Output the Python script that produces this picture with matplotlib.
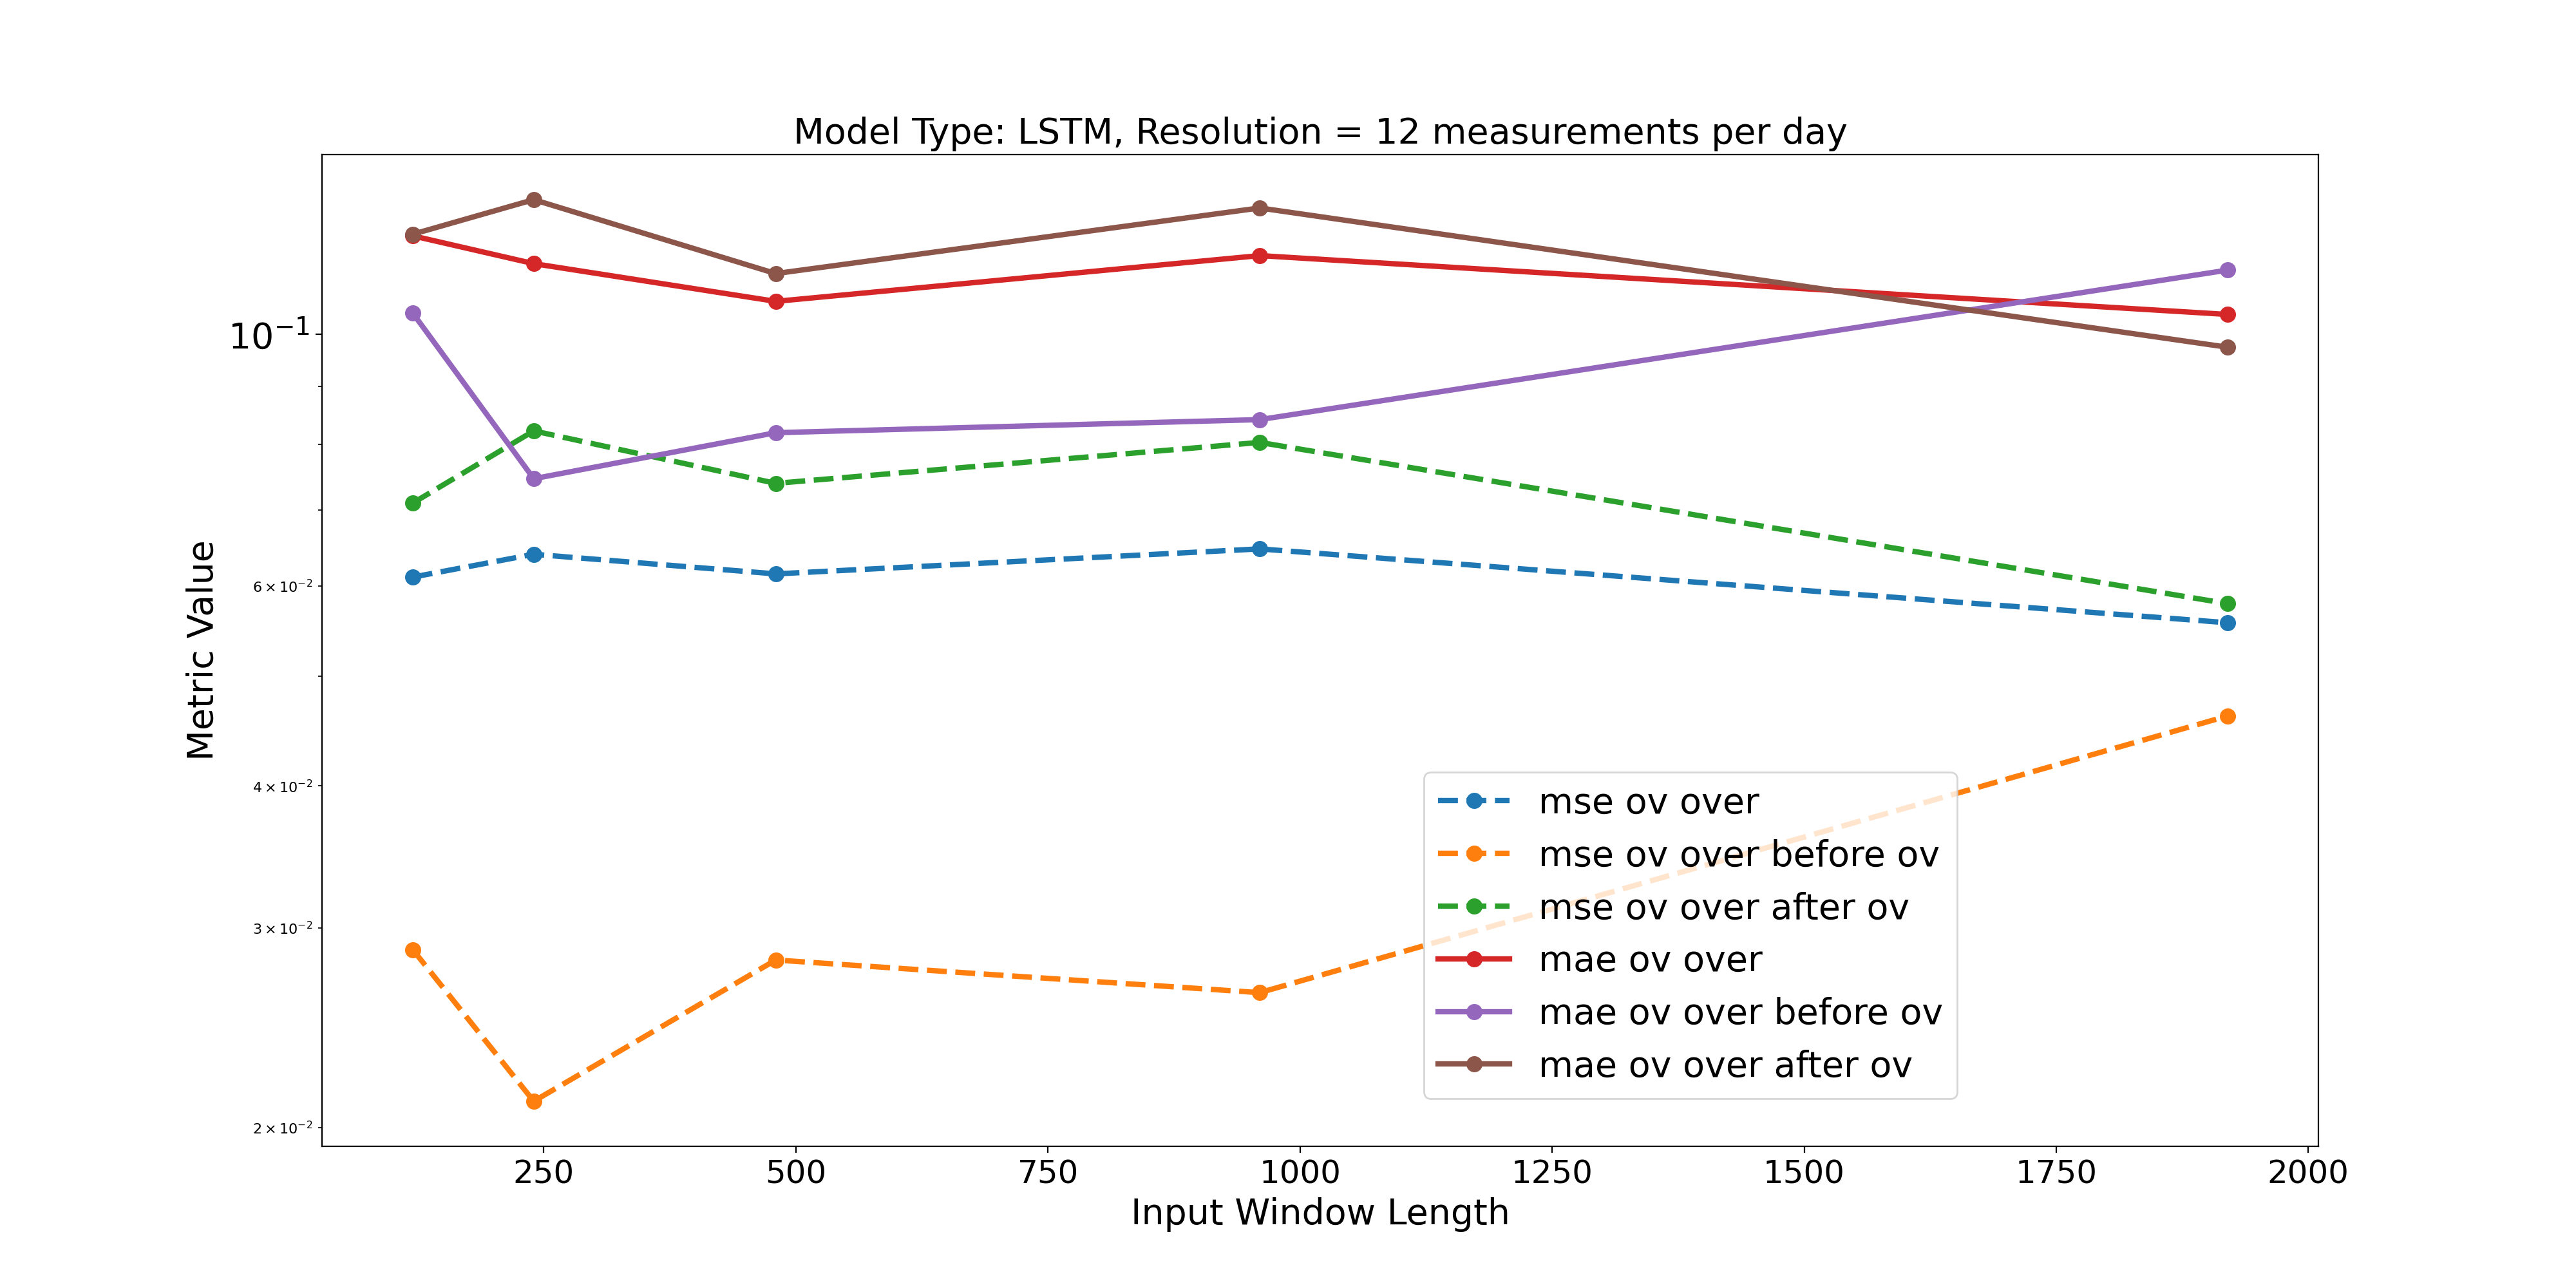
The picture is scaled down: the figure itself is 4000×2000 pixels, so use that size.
import matplotlib
matplotlib.use('Agg')
from matplotlib import pyplot as plt

windows = [120, 240, 480, 960, 1920]

mse_over = [0.0611, 0.0640, 0.0615, 0.0647, 0.0557]
mse_before = [0.0287, 0.0211, 0.0281, 0.0263, 0.0461]
mse_after = [0.0710, 0.0822, 0.0739, 0.0803, 0.0579]
mae_over = [0.1221, 0.1154, 0.1069, 0.1173, 0.1041]
mae_before = [0.1044, 0.0746, 0.0819, 0.0841, 0.1139]
mae_after = [0.1225, 0.1314, 0.1131, 0.1292, 0.0974]

series = [
    ('mse ov over', mse_over, '--'),
    ('mse ov over before ov', mse_before, '--'),
    ('mse ov over after ov', mse_after, '--'),
    ('mae ov over', mae_over, '-'),
    ('mae ov over before ov', mae_before, '-'),
    ('mae ov over after ov', mae_after, '-'),
]

fig, ax = plt.subplots(figsize=(20, 10), dpi=200)
for name, vals, ls in series:
    ax.plot(windows, vals, ls, marker='o', linewidth=3, markersize=8, label=name)

ax.set_yscale('log')
ax.set_title('Model Type: LSTM, Resolution = 12 measurements per day', fontsize=20)
ax.set_xlabel('Input Window Length', fontsize=20)
ax.set_ylabel('Metric Value', fontsize=20)
ax.tick_params(axis='x', labelsize=18)
ax.tick_params(axis='y', which='major', labelsize=20)
ax.tick_params(axis='y', which='minor', labelsize=8)
ax.legend(fontsize=20, loc='lower right', bbox_to_anchor=(0.828, 0.03))

plt.savefig('out.png')
